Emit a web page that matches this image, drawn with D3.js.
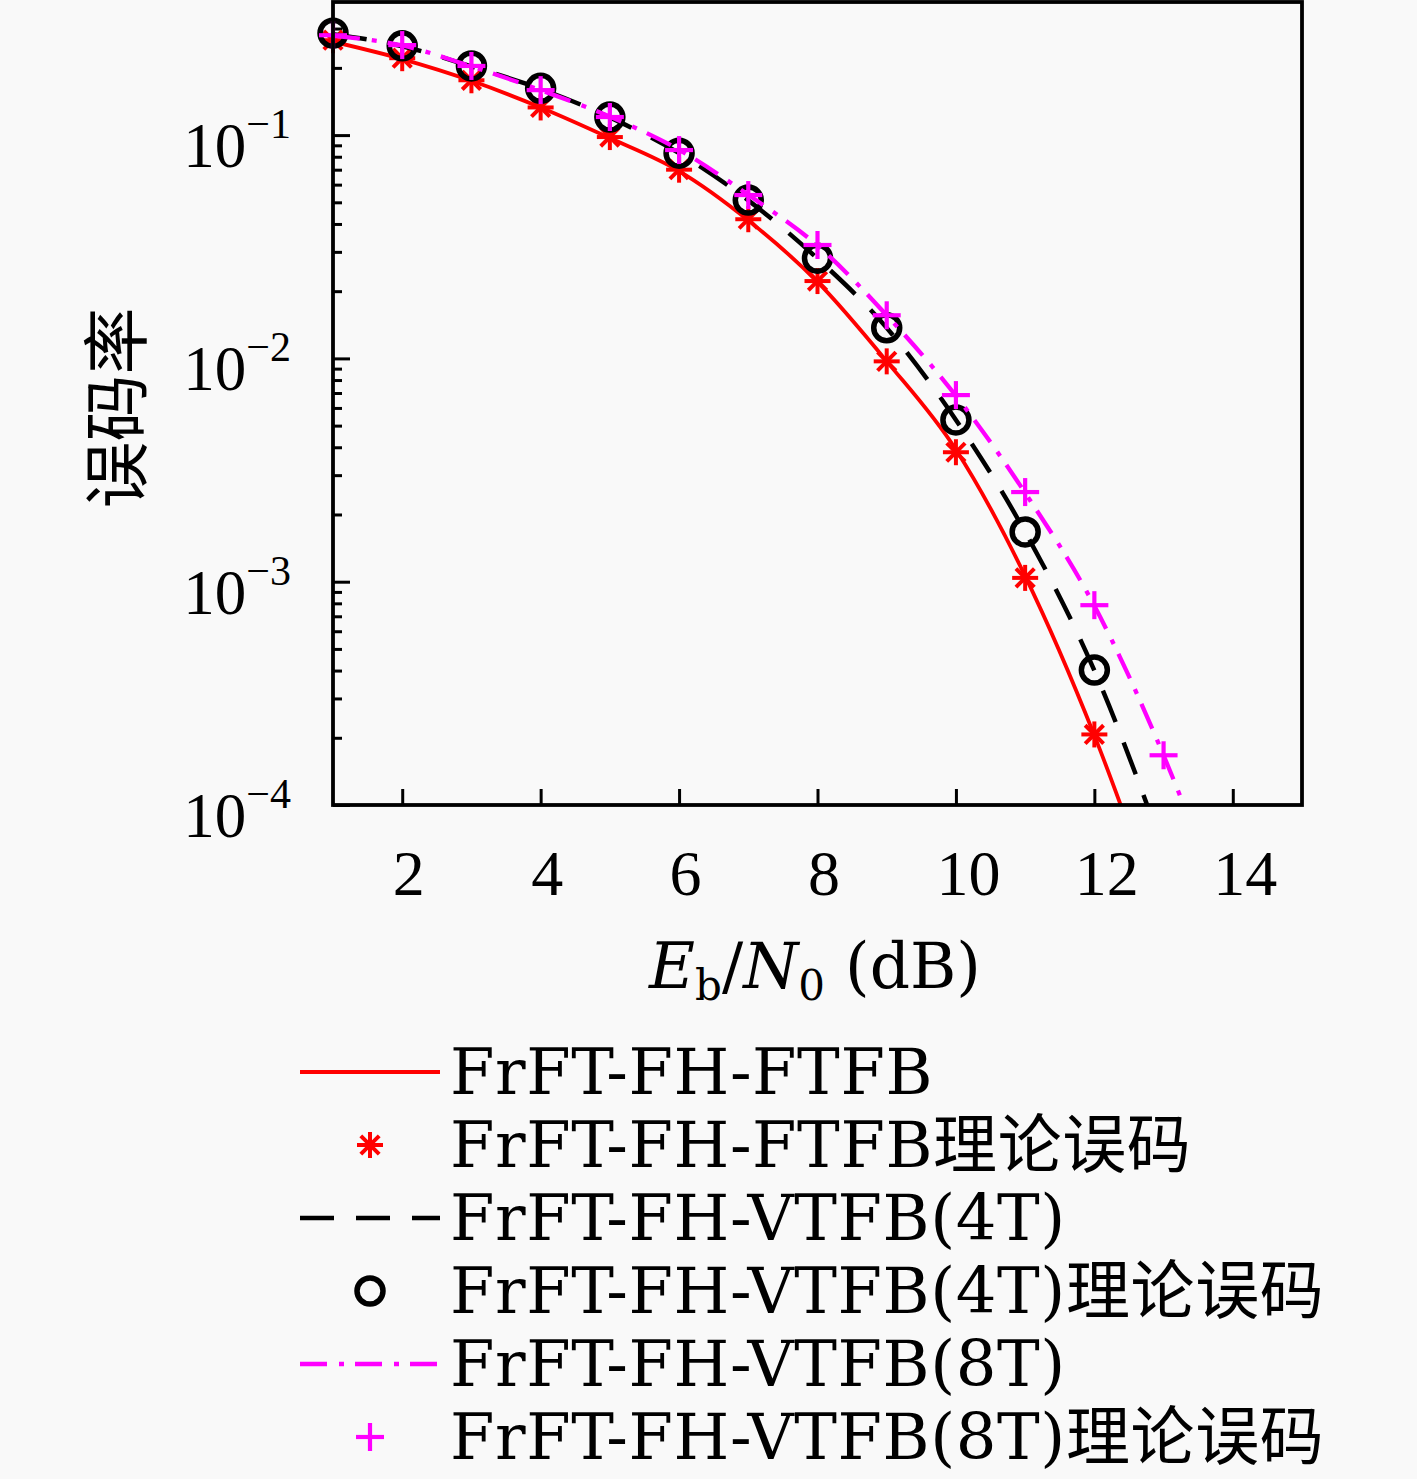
<!DOCTYPE html>
<html>
<head>
<meta charset="utf-8">
<script src="https://cdn.jsdelivr.net/npm/d3@7"></script>
<style>
  body { margin: 0; background: #f9f9f9; }
  svg { display: block; }
</style>
</head>
<body>
<svg id="chart"></svg>
<script>
// Eb/N0 values (dB)
const snrSim = [1, 2, 3, 4, 5, 6, 7, 8, 9, 10, 11, 12, 13];
const snrSim8 = [1, 2, 3, 4, 5, 6, 7, 8, 9, 10, 11, 12, 13, 14];
const snrTheory = [1, 2, 3, 4, 5, 6, 7, 8, 9, 10, 11, 12];
const snrTheory8 = [1, 2, 3, 4, 5, 6, 7, 8, 9, 10, 11, 12, 13];

// FrFT-FH-FTFB
const ftfbSim = [0.262, 0.219, 0.175, 0.133, 0.097, 0.069, 0.0415, 0.022, 0.0097, 0.0039, 0.00106, 0.000205, 0.000029];
const ftfbTheory = [0.266, 0.221, 0.176, 0.133, 0.098, 0.07, 0.042, 0.0222, 0.0097, 0.0038, 0.00104, 0.000207];
// FrFT-FH-VTFB(4T)
const vtfb4Sim = [0.283, 0.25, 0.203, 0.161, 0.12, 0.083, 0.051, 0.028, 0.0137, 0.0053, 0.00167, 0.0004, 0.000063];
const vtfb4Theory = [0.286, 0.251, 0.204, 0.162, 0.1205, 0.083, 0.0512, 0.0281, 0.0137, 0.0053, 0.00167, 0.000402];
// FrFT-FH-VTFB(8T)
const vtfb8Sim = [0.278, 0.252, 0.203, 0.159, 0.121, 0.086, 0.054, 0.032, 0.0156, 0.0068, 0.0025, 0.00078, 0.000167, 0.000026];
const vtfb8Theory = [0.28, 0.253, 0.204, 0.159, 0.1205, 0.0857, 0.0539, 0.0322, 0.0156, 0.00685, 0.00252, 0.000785, 0.000167];

const xTicks = [2, 4, 6, 8, 10, 12, 14];
const yTicks = [1e-4, 1e-3, 1e-2, 1e-1];
const yTickExp = ["\u22124", "\u22123", "\u22122", "\u22121"];
const legendLabels = [
  "FrFT-FH-FTFB",
  "FrFT-FH-FTFB理论误码",
  "FrFT-FH-VTFB(4T)",
  "FrFT-FH-VTFB(4T)理论误码",
  "FrFT-FH-VTFB(8T)",
  "FrFT-FH-VTFB(8T)理论误码",
];

const width = 1417;
const height = 1479;
const plotLeft = 333, plotRight = 1302, plotTop = 2, plotBottom = 805;

const svg = d3.select("#chart").attr("width", width).attr("height", height);
svg.append("rect").attr("width", width).attr("height", height).attr("fill", "#f9f9f9");

const xScale = d3.scaleLinear().domain([1, 15]).range([plotLeft, plotRight]);
// 223.3 px per decade, 1e-4 at the bottom edge
const yTop = Math.pow(10, -4 + (plotBottom - plotTop) / 223.3);
const yScale = d3.scaleLog().domain([1e-4, yTop]).range([plotBottom, plotTop]);

svg.append("clipPath").attr("id", "plot-clip")
  .append("rect").attr("x", plotLeft).attr("y", plotTop)
  .attr("width", plotRight - plotLeft).attr("height", plotBottom - plotTop);

// minor ticks on the log axis
const minorTicks = [];
for (let e = -4; e <= 0; e++) {
  for (let m = 2; m <= 9; m++) {
    const v = m * Math.pow(10, e);
    if (v < yTop) minorTicks.push(v);
  }
}

const yMinor = d3.axisLeft(yScale).tickValues(minorTicks).tickSize(-9).tickFormat("");
svg.append("g").attr("transform", `translate(${plotLeft},0)`).call(yMinor)
  .call(g => g.select(".domain").remove())
  .selectAll("line").attr("stroke", "#000").attr("stroke-width", 3);

const yMajor = d3.axisLeft(yScale).tickValues(yTicks).tickSize(-17).tickFormat("");
svg.append("g").attr("transform", `translate(${plotLeft},0)`).call(yMajor)
  .call(g => g.select(".domain").remove())
  .selectAll("line").attr("stroke", "#000").attr("stroke-width", 3);

// y tick labels 10^n
yTicks.forEach((t, i) => {
  const txt = svg.append("text")
    .attr("x", 291)
    .attr("y", yScale(t) + 32)
    .attr("text-anchor", "end")
    .attr("font-family", "Liberation Serif, serif")
    .attr("font-size", 63)
    .attr("fill", "#000");
  txt.append("tspan").text("10");
  txt.append("tspan").attr("font-size", 42).attr("dy", -29).text(yTickExp[i]);
});

const xAxis = d3.axisBottom(xScale).tickValues(xTicks).tickSize(-16).tickFormat(d => d);
svg.append("g").attr("transform", `translate(0,${plotBottom})`).call(xAxis)
  .call(g => g.select(".domain").remove())
  .call(g => g.selectAll("line").attr("stroke", "#000").attr("stroke-width", 3))
  .call(g => g.selectAll("text")
    .attr("y", 90).attr("dy", 0)
    .attr("dx", d => String(d).length * 6)
    .attr("font-family", "Liberation Serif, serif")
    .attr("font-size", 64)
    .attr("fill", "#000"));

// axis titles
const xLabel = svg.append("text")
  .attr("x", 815).attr("y", 988)
  .attr("text-anchor", "middle")
  .attr("font-family", "DejaVu Serif, serif")
  .attr("font-size", 63)
  .attr("fill", "#000");
xLabel.append("tspan").attr("font-style", "italic").text("E");
xLabel.append("tspan").attr("font-size", 42).attr("dy", 12).text("b");
xLabel.append("tspan").attr("dy", -12).text("/");
xLabel.append("tspan").attr("font-style", "italic").text("N");
xLabel.append("tspan").attr("font-size", 42).attr("dy", 12).text("0");
xLabel.append("tspan").attr("dy", -12).text(" (dB)");

svg.append("text")
  .attr("transform", "translate(141,408) rotate(-90)")
  .attr("text-anchor", "middle")
  .attr("font-family", "Noto Sans CJK SC, sans-serif")
  .attr("font-size", 67)
  .attr("fill", "#000")
  .text("误码率");

// marker shapes
function star(g, cx, cy, color) {
  const r = 13;
  [0, 45, 90, 135].forEach(a => {
    const dx = r * Math.cos(a * Math.PI / 180), dy = r * Math.sin(a * Math.PI / 180);
    g.append("line").attr("x1", cx - dx).attr("y1", cy - dy).attr("x2", cx + dx).attr("y2", cy + dy)
      .attr("stroke", color).attr("stroke-width", 4);
  });
}
function circle(g, cx, cy, color) {
  g.append("circle").attr("cx", cx).attr("cy", cy).attr("r", 13)
    .attr("fill", "none").attr("stroke", color).attr("stroke-width", 5.5);
}
function plus(g, cx, cy, color) {
  const r = 14;
  g.append("line").attr("x1", cx - r).attr("y1", cy).attr("x2", cx + r).attr("y2", cy)
    .attr("stroke", color).attr("stroke-width", 4.2);
  g.append("line").attr("x1", cx).attr("y1", cy - r).attr("x2", cx).attr("y2", cy + r)
    .attr("stroke", color).attr("stroke-width", 4.2);
}

const series = [
  { type: "line", xs: snrSim, ys: ftfbSim, color: "#ff0000", width: 3.8, dash: null },
  { type: "mark", xs: snrTheory, ys: ftfbTheory, color: "#ff0000", marker: star },
  { type: "line", xs: snrSim, ys: vtfb4Sim, color: "#000000", width: 4.5, dash: "34,22" },
  { type: "mark", xs: snrTheory, ys: vtfb4Theory, color: "#000000", marker: circle },
  { type: "line", xs: snrSim8, ys: vtfb8Sim, color: "#ff00ff", width: 4.3, dash: "27,12,5,11" },
  { type: "mark", xs: snrTheory8, ys: vtfb8Theory, color: "#ff00ff", marker: plus },
];

const line = d3.line()
  .x(d => xScale(d[0]))
  .y(d => yScale(d[1]))
  .curve(d3.curveMonotoneX);

series.forEach(s => {
  const pts = s.xs.map((x, i) => [x, s.ys[i]]);
  if (s.type === "line") {
    svg.append("path")
      .datum(pts)
      .attr("clip-path", "url(#plot-clip)")
      .attr("d", line)
      .attr("fill", "none")
      .attr("stroke", s.color)
      .attr("stroke-width", s.width)
      .attr("stroke-dasharray", s.dash);
  } else {
    const g = svg.append("g");
    pts.forEach(p => s.marker(g, xScale(p[0]), yScale(p[1]), s.color));
  }
});

// frame
svg.append("rect")
  .attr("x", plotLeft).attr("y", plotTop)
  .attr("width", plotRight - plotLeft).attr("height", plotBottom - plotTop)
  .attr("fill", "none").attr("stroke", "#000").attr("stroke-width", 3.8);

// legend
const legend = svg.append("g");
series.forEach((s, i) => {
  const cy = 1072 + i * 73;
  if (s.type === "line") {
    legend.append("line").attr("x1", 300).attr("x2", 440).attr("y1", cy).attr("y2", cy)
      .attr("stroke", s.color).attr("stroke-width", s.width)
      .attr("stroke-dasharray", s.dash);
  } else {
    s.marker(legend, 370, cy, s.color);
  }
  legend.append("text")
    .attr("x", 450).attr("y", cy + 22)
    .attr("font-family", "DejaVu Serif, Noto Sans CJK SC, serif")
    .attr("font-size", 64)
    .attr("letter-spacing", 0.6)
    .attr("fill", "#000")
    .text(legendLabels[i]);
});
</script>
</body>
</html>
